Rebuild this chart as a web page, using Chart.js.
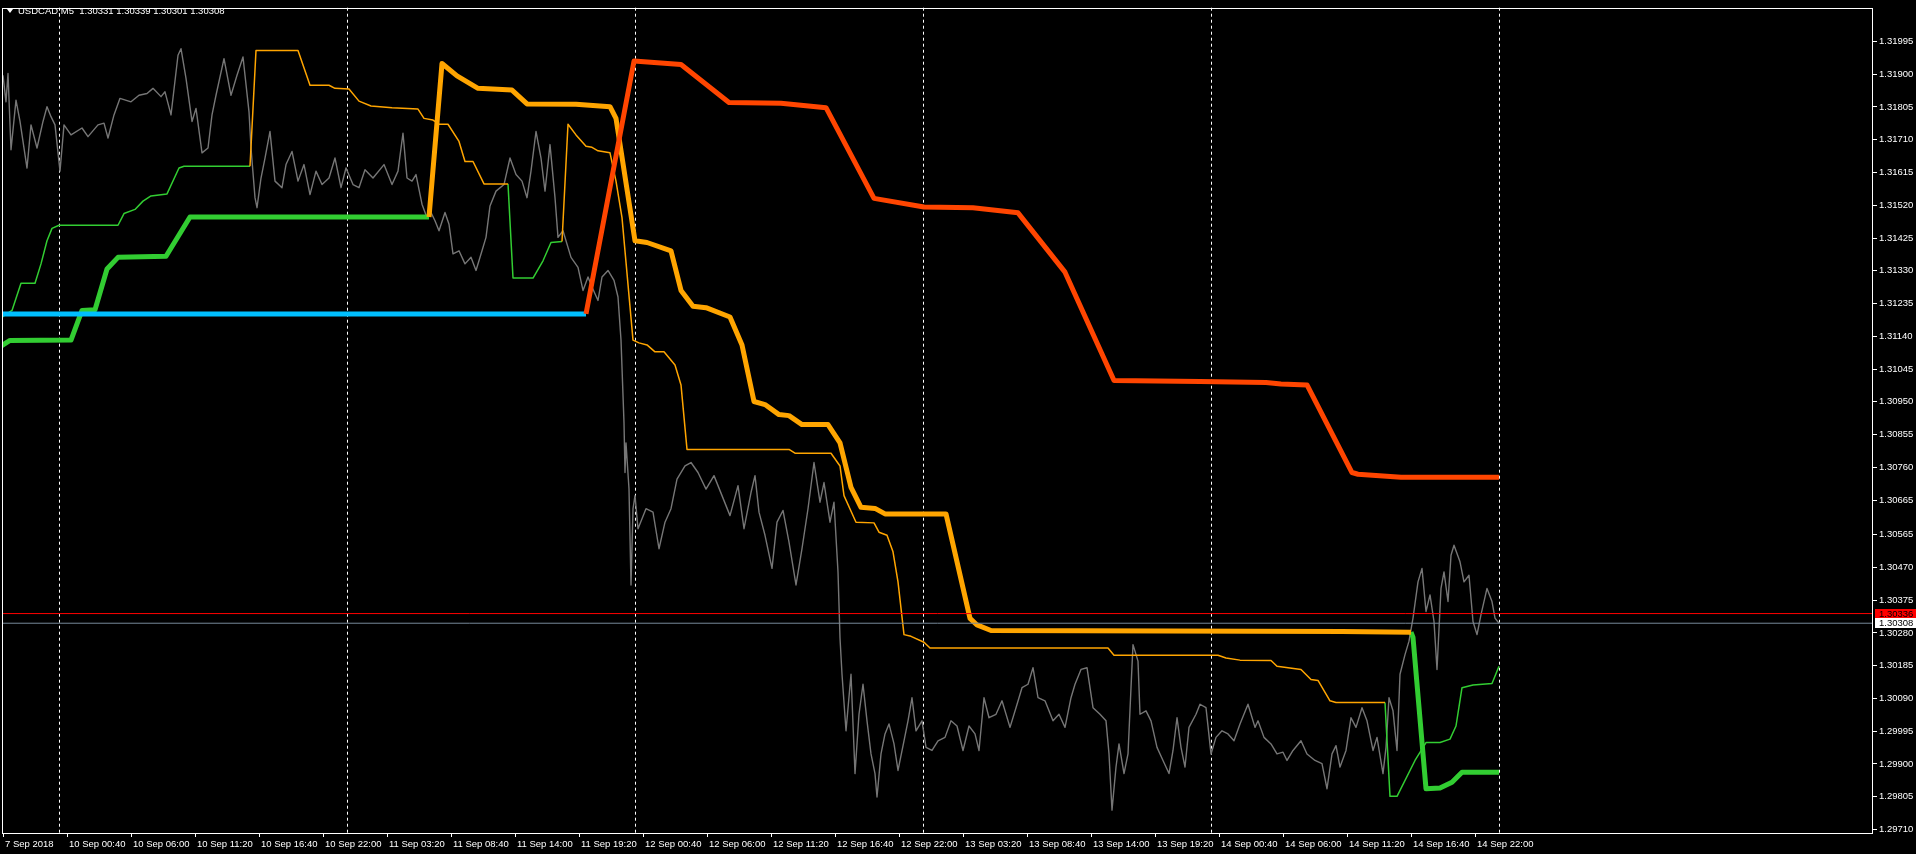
<!DOCTYPE html>
<html>
<head>
<meta charset="utf-8">
<title>USDCAD,M5</title>
<script src="https://cdn.jsdelivr.net/npm/chart.js@4/dist/chart.umd.min.js"></script>
<style>
html, body { margin: 0; padding: 0; background: #000; overflow: hidden; }
canvas { display: block; }
</style>
</head>
<body>
<canvas id="chart" width="1916" height="854"></canvas>
<script>
// x = 5-minute bar number counted from 10 Sep 2018 00:00
const xTickBars = [-56, 8, 72, 136, 200, 264, 328, 392, 456, 520, 584, 648, 712, 776, 840, 904, 968, 1032, 1096, 1160, 1224, 1288, 1352, 1416];
const xTickLabels = ['7 Sep 2018', '10 Sep 00:40', '10 Sep 06:00', '10 Sep 11:20', '10 Sep 16:40', '10 Sep 22:00',
  '11 Sep 03:20', '11 Sep 08:40', '11 Sep 14:00', '11 Sep 19:20', '12 Sep 00:40', '12 Sep 06:00', '12 Sep 11:20',
  '12 Sep 16:40', '12 Sep 22:00', '13 Sep 03:20', '13 Sep 08:40', '13 Sep 14:00', '13 Sep 19:20', '14 Sep 00:40',
  '14 Sep 06:00', '14 Sep 11:20', '14 Sep 16:40', '14 Sep 22:00'];
const yTickValues = [1.31995, 1.31900, 1.31805, 1.31710, 1.31615, 1.31520, 1.31425, 1.31330, 1.31235, 1.31140,
  1.31045, 1.30950, 1.30855, 1.30760, 1.30665, 1.30565, 1.30470, 1.30375, 1.30280, 1.30185, 1.30090, 1.29995,
  1.29900, 1.29805, 1.29710];
const daySeparatorBars = [0, 288, 576, 864, 1152, 1440];

const symbolTitle = 'USDCAD,M5  1.30331 1.30339 1.30301 1.30308';
const askPrice = 1.30336;
const bidPrice = 1.30308;

// close price path (bar, price)
const closePath = [
  [-56,1.31897],[-53,1.31820],[-51,1.31902],[-48,1.31681],[-43,1.31825],[-39,1.31763],[-32,1.31628],[-28,1.31753],
  [-22,1.31686],[-16,1.31763],[-12,1.31806],[-8,1.31777],[-4,1.31753],[1,1.31619],[5,1.31753],[12,1.31724],
  [23,1.31744],[29,1.31719],[39,1.31753],[45,1.31758],[49,1.31715],[55,1.31782],[61,1.31830],[72,1.31820],
  [80,1.31839],[88,1.31844],[94,1.31859],[102,1.31835],[106,1.31849],[112,1.31782],[119,1.31955],[122,1.31974],
  [127,1.31888],[133,1.31763],[137,1.31801],[143,1.31672],[149,1.31686],[153,1.31782],[157,1.31839],[165,1.31945],
  [172,1.31839],[178,1.31897],[184,1.31950],[190,1.31791],[192,1.31686],[196,1.31542],[198,1.31513],[202,1.31599],
  [206,1.31657],[211,1.31734],[216,1.31590],[223,1.31571],[227,1.31638],[233,1.31676],[239,1.31590],[245,1.31638],
  [251,1.31551],[257,1.31619],[263,1.31580],[270,1.31599],[276,1.31657],[282,1.31571],[287,1.31628],[294,1.31580],
  [300,1.31571],[306,1.31623],[314,1.31599],[325,1.31638],[333,1.31580],[339,1.31619],[344,1.31729],[348,1.31599],
  [353,1.31590],[357,1.31609],[363,1.31523],[368,1.31484],[372,1.31499],[376,1.31475],[380,1.31446],[386,1.31499],
  [390,1.31465],[394,1.31379],[400,1.31388],[406,1.31350],[412,1.31369],[417,1.31331],[423,1.31388],[427,1.31427],
  [431,1.31518],[437,1.31561],[445,1.31580],[451,1.31657],[457,1.31609],[463,1.31590],[468,1.31542],[472,1.31619],
  [477,1.31734],[482,1.31657],[486,1.31561],[491,1.31696],[496,1.31542],[499,1.31427],[504,1.31446],[512,1.31369],
  [519,1.31340],[524,1.31273],[529,1.31312],[533,1.31283],[539,1.31244],[543,1.31312],[549,1.31331],[555,1.31302],
  [559,1.31254],[562,1.31129],[565,1.30889],[566,1.30745],[567,1.30831],[570,1.30697],[572,1.30419],[574,1.30640],
  [576,1.30678],[579,1.30582],[587,1.30640],[594,1.30630],[600,1.30524],[606,1.30601],[612,1.30640],[618,1.30726],
  [626,1.30764],[632,1.30774],[639,1.30745],[647,1.30697],[655,1.30736],[663,1.30678],[671,1.30620],[679,1.30707],
  [685,1.30582],[692,1.30687],[696,1.30736],[700,1.30630],[706,1.30563],[713,1.30467],[718,1.30601],[724,1.30635],
  [730,1.30543],[737,1.30419],[743,1.30524],[749,1.30640],[755,1.30774],[761,1.30659],[765,1.30716],[771,1.30601],
  [775,1.30659],[779,1.30457],[781,1.30265],[783,1.30160],[787,1.29996],[792,1.30160],[796,1.29872],[800,1.30044],
  [804,1.30131],[808,1.30025],[812,1.29929],[816,1.29872],[818,1.29804],[822,1.29929],[826,1.29987],[830,1.30016],
  [835,1.29958],[839,1.29881],[845,1.29967],[849,1.30025],[853,1.30092],[857,1.29996],[863,1.30025],[867,1.29948],
  [873,1.29939],[879,1.29967],[886,1.29977],[892,1.30025],[898,1.30010],[904,1.29939],[910,1.30010],[916,1.29987],
  [920,1.29939],[925,1.30092],[930,1.30034],[937,1.30044],[943,1.30083],[951,1.30006],[957,1.30063],[963,1.30121],
  [969,1.30131],[974,1.30179],[979,1.30092],[986,1.30083],[994,1.30025],[1000,1.30044],[1006,1.30006],[1012,1.30092],
  [1016,1.30131],[1022,1.30174],[1028,1.30179],[1034,1.30063],[1041,1.30044],[1047,1.30025],[1050,1.29929],[1053,1.29766],
  [1057,1.29891],[1060,1.29958],[1065,1.29872],[1069,1.29929],[1072,1.30121],[1074,1.30246],[1079,1.30198],[1081,1.30044],
  [1087,1.30054],[1092,1.30025],[1098,1.29948],[1104,1.29910],[1110,1.29872],[1114,1.29939],[1118,1.30034],[1122,1.29948],
  [1126,1.29891],[1130,1.30006],[1137,1.30044],[1141,1.30073],[1147,1.30063],[1152,1.29929],[1157,1.29977],[1163,1.29996],
  [1169,1.29987],[1175,1.29967],[1181,1.30016],[1189,1.30073],[1196,1.30006],[1199,1.30025],[1205,1.29977],[1212,1.29958],
  [1218,1.29929],[1224,1.29934],[1228,1.29910],[1234,1.29939],[1242,1.29967],[1248,1.29929],[1256,1.29910],[1263,1.29901],
  [1268,1.29828],[1273,1.29929],[1277,1.29953],[1281,1.29891],[1287,1.29939],[1292,1.30034],[1297,1.30006],[1303,1.30063],
  [1308,1.30025],[1314,1.29939],[1318,1.29977],[1324,1.29872],[1327,1.29948],[1330,1.30092],[1334,1.30054],[1338,1.29939],
  [1341,1.30160],[1346,1.30217],[1350,1.30256],[1354,1.30323],[1359,1.30428],[1363,1.30467],[1367,1.30342],[1371,1.30390],
  [1375,1.30313],[1378,1.30174],[1382,1.30409],[1385,1.30457],[1389,1.30371],[1392,1.30505],[1395,1.30534],[1401,1.30486],
  [1405,1.30428],[1410,1.30447],[1414,1.30313],[1418,1.30275],[1422,1.30333],[1428,1.30409],[1433,1.30371],[1436,1.30323],
  [1440,1.30308]
];

// slow trend line (thick)
const slowUpA = [[-60,1.31108],[-49,1.31128],[12,1.31129],[23,1.31215],[36,1.31217],[48,1.31335],[59,1.31369],[107,1.31372],[131,1.31486],[370,1.31486]];
const slowDown = [[370,1.31486],[383,1.31931],[398,1.31895],[419,1.31859],[453,1.31854],[468,1.31814],[517,1.31813],[551,1.31806],
  [557,1.31772],[576,1.31417],[588,1.31412],[612,1.31388],[622,1.31273],[634,1.31227],[647,1.31223],[671,1.31196],[683,1.31115],
  [695,1.30951],[706,1.30942],[720,1.30913],[730,1.30910],[743,1.30884],[769,1.30884],[781,1.30831],[792,1.30702],[802,1.30644],
  [816,1.30641],[826,1.30625],[887,1.30625],[911,1.30322],[918,1.30303],[932,1.30287],[1283,1.30284],[1352,1.30282]];
const slowUpB = [[1352,1.30282],[1354,1.30267],[1367,1.29828],[1381,1.29830],[1393,1.29847],[1403,1.29876],[1440,1.29876]];

// higher timeframe line (thick)
const htfBase = [[-60,1.31205],[527,1.31205]];
const htfDown = [[527,1.31205],[575,1.31938],[622,1.31928],[670,1.31818],[722,1.31816],[767,1.31803],[815,1.31540],[865,1.31515],
  [914,1.31513],[959,1.31498],[1006,1.31326],[1055,1.31012],[1141,1.31009],[1207,1.31006],[1222,1.31002],[1248,1.30999],
  [1293,1.30745],[1299,1.30740],[1342,1.30731],[1440,1.30731]];

// fast trend line (thin)
const fastUpA = [[-60,1.31180],[-56,1.31198],[-47,1.31215],[-38,1.31294],[-24,1.31294],[-18,1.31350],[-12,1.31417],[-7,1.31453],
  [0,1.31462],[59,1.31462],[65,1.31496],[76,1.31508],[84,1.31532],[92,1.31547],[108,1.31553],[120,1.31628],[125,1.31633],[191,1.31633]];
const fastDownA = [[191,1.31633],[197,1.31969],[239,1.31969],[251,1.31868],[270,1.31868],[276,1.31859],[290,1.31857],[300,1.31822],
  [312,1.31808],[333,1.31803],[359,1.31799],[365,1.31772],[374,1.31767],[380,1.31755],[389,1.31755],[400,1.31705],[406,1.31647],
  [414,1.31647],[425,1.31582],[449,1.31582]];
const fastUpB = [[449,1.31582],[454,1.31309],[474,1.31309],[484,1.31359],[492,1.31412],[503,1.31415]];
const fastDownB = [[503,1.31415],[509,1.31755],[517,1.31724],[527,1.31691],[533,1.31688],[539,1.31678],[551,1.31672],[557,1.31590],
  [563,1.31484],[574,1.31129],[580,1.31121],[588,1.31115],[596,1.31095],[605,1.31095],[616,1.31057],[622,1.30999],[628,1.30812],
  [730,1.30812],[736,1.30801],[772,1.30801],[781,1.30764],[785,1.30678],[797,1.30601],[815,1.30599],[820,1.30572],[828,1.30563],
  [834,1.30515],[839,1.30428],[845,1.30275],[852,1.30270],[865,1.30253],[871,1.30236],[1049,1.30236],[1055,1.30215],[1159,1.30215],
  [1167,1.30207],[1181,1.30201],[1212,1.30200],[1218,1.30183],[1242,1.30174],[1252,1.30145],[1259,1.30142],[1271,1.30083],
  [1277,1.30078],[1326,1.30078]];
const fastUpC = [[1326,1.30078],[1331,1.29806],[1338,1.29806],[1356,1.29910],[1367,1.29962],[1381,1.29962],[1391,1.29972],
  [1397,1.30010],[1403,1.30121],[1414,1.30129],[1433,1.30133],[1440,1.30183]];

const X_MIN = -57, X_MAX = 1814;

Chart.defaults.font.family = 'Liberation Sans';
Chart.defaults.font.size = 9.5;
Chart.defaults.color = '#ffffff';

function line(label, path, color, width) {
  return {
    label: label,
    data: path.map(p => ({ x: p[0], y: p[1] })),
    borderColor: color,
    borderWidth: width,
    pointRadius: 0,
    tension: 0,
    fill: false,
    borderJoinStyle: 'round'
  };
}

const ORANGE = '#ffa500';
const GREEN = '#32cd32';

// day separators, frame, header and price boxes
const mt4Decor = {
  id: 'mt4Decor',
  beforeDatasetsDraw(chart) {
    const { ctx, chartArea, scales } = chart;
    ctx.save();
    ctx.strokeStyle = '#ffffff';
    ctx.lineWidth = 1;
    ctx.setLineDash([3, 3]);
    daySeparatorBars.forEach(b => {
      const x = Math.round(scales.x.getPixelForValue(b)) + 0.5;
      ctx.beginPath();
      ctx.moveTo(x, chartArea.top);
      ctx.lineTo(x, chartArea.bottom);
      ctx.stroke();
    });
    ctx.restore();
  },
  afterDraw(chart) {
    const { ctx, chartArea, scales } = chart;
    ctx.save();
    ctx.strokeStyle = '#ffffff';
    ctx.lineWidth = 1;
    ctx.strokeRect(Math.round(chartArea.left) + 0.5, Math.round(chartArea.top) + 0.5,
      Math.round(chartArea.width) - 1, Math.round(chartArea.height));

    // header
    ctx.fillStyle = '#ffffff';
    ctx.beginPath();
    ctx.moveTo(7, 9); ctx.lineTo(13, 9); ctx.lineTo(10, 13); ctx.closePath();
    ctx.fill();
    ctx.font = '9.5px "Liberation Sans"';
    ctx.textBaseline = 'middle';
    ctx.textAlign = 'left';
    ctx.fillText(symbolTitle, 18, 11);

    // current price boxes on the axis
    [[askPrice, '#ff0000'], [bidPrice, '#ffffff']].forEach(([p, bg]) => {
      const y = Math.round(scales.y.getPixelForValue(p));
      ctx.fillStyle = bg;
      ctx.fillRect(chartArea.right + 2, y - 5, 41, 10);
      ctx.fillStyle = '#000000';
      ctx.fillText(p.toFixed(5), chartArea.right + 6, y + 0.5);
    });
    ctx.restore();
  }
};

new Chart(document.getElementById('chart'), {
  type: 'line',
  data: {
    datasets: [
      line('Ask', [[X_MIN, askPrice], [X_MAX, askPrice]], '#ff0000', 1),
      line('Bid', [[X_MIN, bidPrice], [X_MAX, bidPrice]], '#778899', 1),
      line('HTF down', htfDown, '#ff4500', 5),
      line('HTF base', htfBase, '#00bfff', 5),
      line('Slow down', slowDown, ORANGE, 5),
      line('Slow up A', slowUpA, GREEN, 5),
      line('Slow up B', slowUpB, GREEN, 5),
      line('Fast down A', fastDownA, ORANGE, 1.5),
      line('Fast down B', fastDownB, ORANGE, 1.5),
      line('Fast up A', fastUpA, GREEN, 1.5),
      line('Fast up B', fastUpB, GREEN, 1.5),
      line('Fast up C', fastUpC, GREEN, 1.5),
      line('USDCAD', closePath, '#767676', 1.4)
    ]
  },
  options: {
    responsive: false,
    animation: false,
    layout: { padding: { left: 2, top: 2, right: 0, bottom: 0 } },
    plugins: { legend: { display: false }, tooltip: { enabled: false } },
    scales: {
      x: {
        type: 'linear',
        min: X_MIN,
        max: X_MAX,
        afterBuildTicks: s => { s.ticks = xTickBars.map(v => ({ value: v })); },
        afterFit: s => { s.height = 21; },
        ticks: {
          autoSkip: false,
          maxRotation: 0,
          align: 'start',
          labelOffset: 2,
          padding: 2,
          color: '#ffffff',
          callback: (v, i) => xTickLabels[i]
        },
        grid: { drawOnChartArea: false, tickLength: 4, color: '#ffffff' },
        border: { display: false }
      },
      y: {
        type: 'linear',
        position: 'right',
        min: 1.296997,
        max: 1.320929,
        afterBuildTicks: s => { s.ticks = yTickValues.map(v => ({ value: v })); },
        afterFit: s => { s.width = 43; },
        ticks: {
          autoSkip: false,
          padding: 2,
          color: '#ffffff',
          callback: v => v.toFixed(5)
        },
        grid: { drawOnChartArea: false, tickLength: 4, color: '#ffffff' },
        border: { display: false }
      }
    }
  },
  plugins: [mt4Decor]
});
</script>
</body>
</html>
